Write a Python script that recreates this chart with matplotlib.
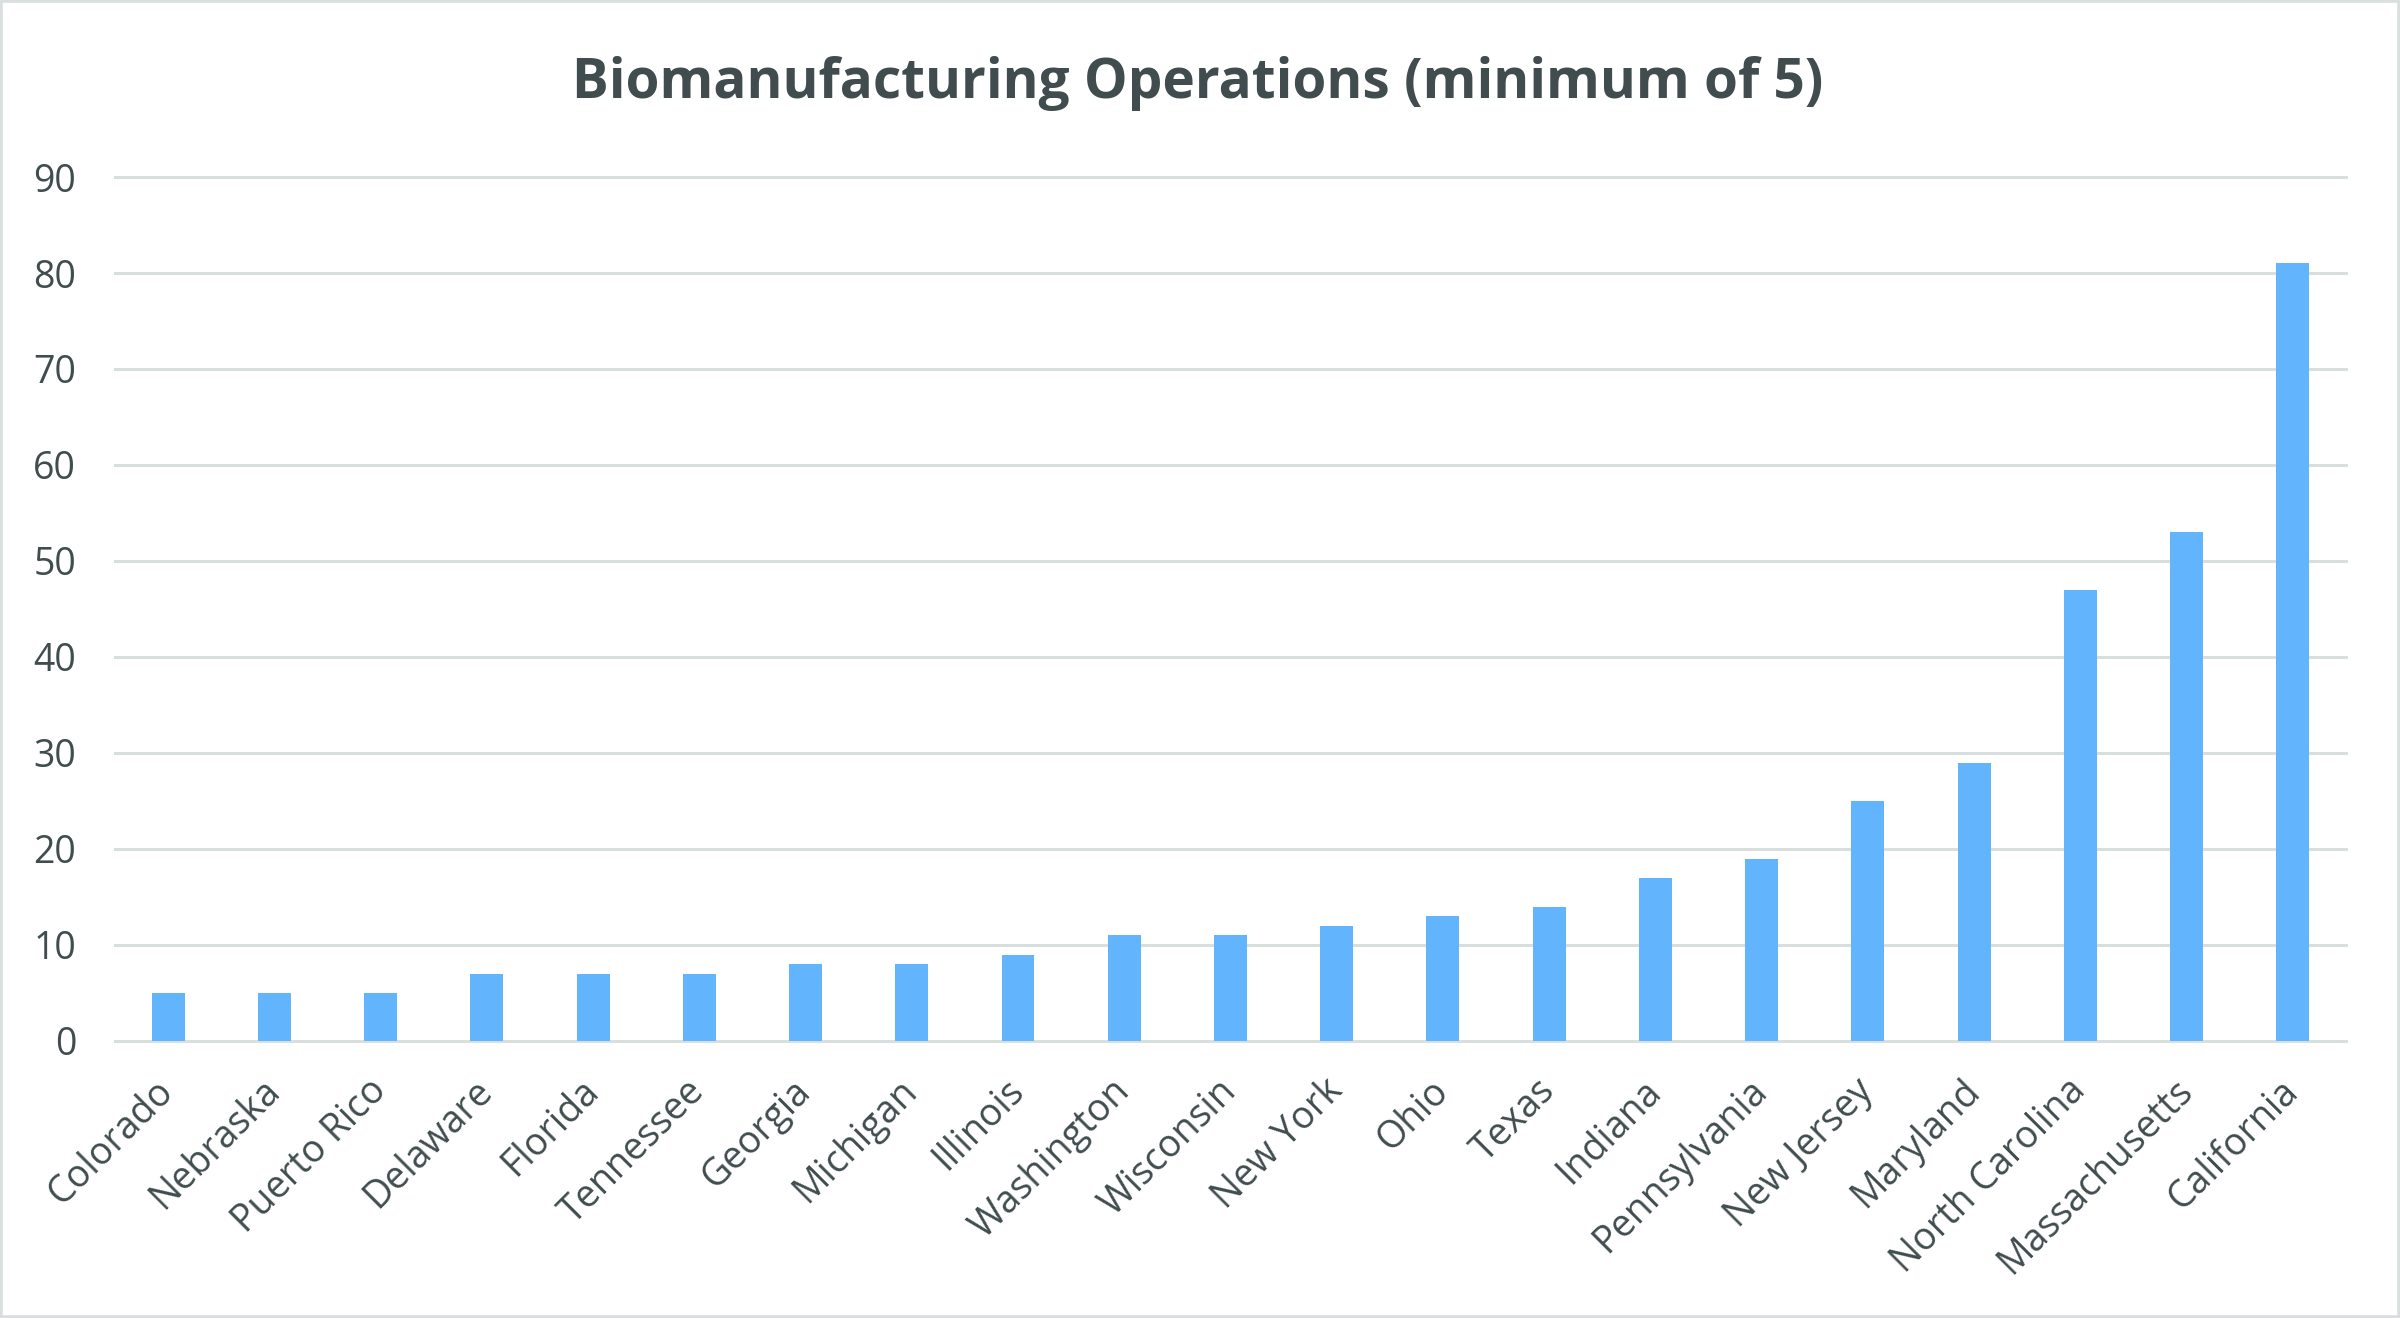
import matplotlib
matplotlib.use("Agg")
import matplotlib.pyplot as plt
from matplotlib.patches import Rectangle

states = ["Colorado", "Nebraska", "Puerto Rico", "Delaware", "Florida", "Tennessee",
          "Georgia", "Michigan", "Illinois", "Washington", "Wisconsin", "New York",
          "Ohio", "Texas", "Indiana", "Pennsylvania", "New Jersey", "Maryland",
          "North Carolina", "Massachusetts", "California"]
operations = [5, 5, 5, 7, 7, 7, 8, 8, 9, 11, 11, 12, 13, 14, 17, 19, 25, 29, 47, 53, 81]
yticks = [0, 10, 20, 30, 40, 50, 60, 70, 80, 90]
title = "Biomanufacturing Operations (minimum of 5)"

TEXT = "#404C4E"
GRID = "#D9DEDE"
BAR = "#62B4FC"

plt.rcParams['font.family'] = ['Open Sans', 'DejaVu Sans']

fig = plt.figure(figsize=(24, 13.18), dpi=100)
ax = fig.add_axes([0.0479, 0.2102, 0.9296, 0.6555])

x = list(range(len(states)))
ax.bar(x, operations, width=0.31, color=BAR, zorder=3)

ax.set_xlim(-0.5, len(states) - 0.5)
ax.set_ylim(0, 90)
ax.set_yticks(yticks)
ax.set_yticklabels([str(v) for v in yticks], fontsize=27, color=TEXT)
ax.set_xticks(x)
ax.set_xticklabels(states, fontsize=27, color=TEXT, rotation=45, ha='right',
                   va='center', rotation_mode='anchor')
ax.tick_params(axis='x', length=0, pad=32)
ax.tick_params(axis='y', length=0, pad=28)

ax.grid(axis='y', color=GRID, linewidth=2.2, zorder=0)
for gl in ax.get_ygridlines():
    gl.set_clip_on(False)
for s in ax.spines.values():
    s.set_visible(False)

fig.text(0.4992, 0.937, title, fontsize=39.5, fontweight='bold', color=TEXT,
         ha='center', va='center')

fig.patches.append(Rectangle((0, 0), 1, 1, transform=fig.transFigure, fill=False,
                             edgecolor=GRID, linewidth=4))

fig.savefig("out.png", dpi=100, facecolor="white")
